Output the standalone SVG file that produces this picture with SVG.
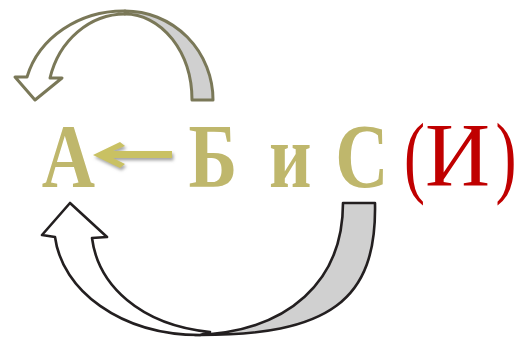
<svg xmlns="http://www.w3.org/2000/svg" width="525" height="337" viewBox="0 0 525 337">
<defs>
<style>
.ol{font-family:"Liberation Serif","Times New Roman",serif;font-weight:bold;font-size:90px;fill:#BFB76C}
.rd{font-family:"Liberation Serif","Times New Roman",serif;font-size:90px;fill:#C00000}
.ta{stroke:#7A7858;stroke-width:3;stroke-linejoin:round}
.ba{stroke:#231F20;stroke-width:2.6;stroke-linejoin:round}
.gr{fill:#D0D0D0}
.wh{fill:#FFFFFF}
</style>
<filter id="sh" x="-20%" y="-40%" width="140%" height="180%">
<feDropShadow dx="1.5" dy="2.5" stdDeviation="1.5" flood-color="#808080" flood-opacity="0.7"/>
</filter>
</defs>
<rect width="525" height="337" fill="#FFFFFF"/>
<g id="connectors">
<g id="top-arrow">
<path class="gr ta" d="M125,11 A88,89 0 0 1 213,100 L192,100 A67,86 0 0 0 125,14 Z"/>
<path class="wh ta" d="M125,11 A100,89 0 0 0 27,77 L15,77 L35,100 L62,78 L50,78 A77.6,86 0 0 1 125,14 Z"/>
</g>
<g id="bottom-arrow">
<path class="gr ba" d="M343,203 L375,203 C377,300 330,336 195,335 C290,332 343,280 343,203 Z"/>
<path class="wh ba" d="M70,203 L107,237 L92,238 C98,285 140,325 210,332 L200,335 C120,335 62,290 55,237 L42,235 Z"/>
</g>
<g id="small-arrow" filter="url(#sh)">
<path fill="#C9C163" d="M93,155 L120,142 L125,146 L113,151 L172,151 L172,158 L113,158 L125,164 L120,168 Z"/>
</g>
</g>
<g id="node-A"><text class="ol" transform="scale(0.82,1)" x="51" y="187">А</text></g>
<g id="node-B"><text class="ol" transform="scale(0.82,1)" x="230" y="187">Б</text></g>
<g id="node-i"><text class="ol" transform="scale(0.82,1)" x="328" y="187">и</text></g>
<g id="node-S"><text class="ol" transform="scale(0.82,1)" x="409" y="187">С</text></g>
<g id="node-I">
<text class="rd" transform="scale(0.7,1)" x="577" y="186">(</text>
<text class="rd" x="425" y="186">И</text>
<text class="rd" transform="scale(0.7,1)" x="708" y="186">)</text>
</g>
</svg>
